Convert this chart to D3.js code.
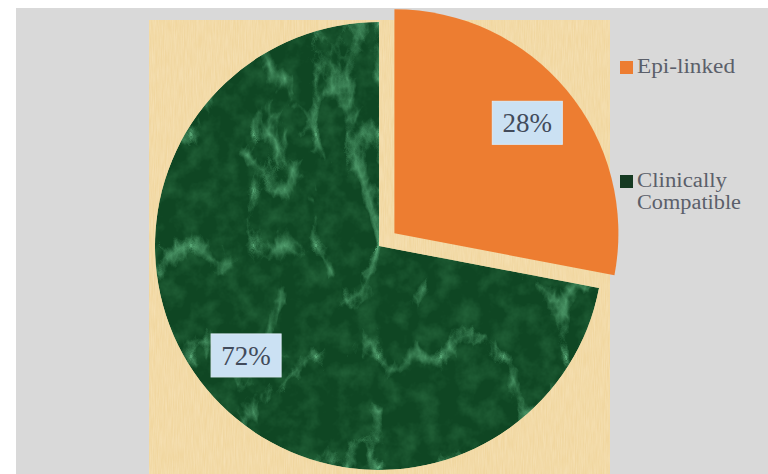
<!DOCTYPE html>
<html>
<head>
<meta charset="utf-8">
<script src="https://cdn.jsdelivr.net/npm/d3@7"></script>
<style>
  body { margin: 0; background: #fff; }
  text { font-family: "Liberation Serif", "Times New Roman", serif; }
</style>
</head>
<body>
<script>
// chart data
var categories = ['Epi-linked', 'Clinically Compatible'];
var values = [28, 72];
var legendLines = [['Epi-linked'], ['Clinically', 'Compatible']];
var colors = ['#ed7d31', '#0f4623'];

var width = 768, height = 474;

var svg = d3.select('body').append('svg')
  .attr('width', width)
  .attr('height', height);

var defs = svg.append('defs');

// green marble look for the big slice: mottled base + thin light veins
var marble = defs.append('filter')
  .attr('id', 'marble')
  .attr('color-interpolation-filters', 'sRGB')
  .attr('x', 0).attr('y', 0).attr('width', '100%').attr('height', '100%');
marble.append('feTurbulence')
  .attr('type', 'fractalNoise')
  .attr('baseFrequency', '0.05')
  .attr('numOctaves', 4)
  .attr('seed', 4)
  .attr('result', 'm');
marble.append('feColorMatrix')
  .attr('in', 'm')
  .attr('type', 'matrix')
  .attr('values', '0 0 0 0 0.16  0 0 0 0 0.42  0 0 0 0 0.25  1.5 0 0 0 -0.62')
  .attr('result', 'mv');
marble.append('feTurbulence')
  .attr('type', 'turbulence')
  .attr('baseFrequency', '0.016 0.009')
  .attr('numOctaves', 5)
  .attr('seed', 11)
  .attr('result', 't');
marble.append('feColorMatrix')
  .attr('in', 't')
  .attr('type', 'matrix')
  .attr('values', '0 0 0 0 0.38  0 0 0 0 0.7  0 0 0 0 0.5  -4 0 0 0 0.85')
  .attr('result', 'v');
var mm = marble.append('feMerge').attr('result', 'all');
mm.append('feMergeNode').attr('in', 'SourceGraphic');
mm.append('feMergeNode').attr('in', 'mv');
mm.append('feMergeNode').attr('in', 'v');
marble.append('feComposite')
  .attr('in', 'all').attr('in2', 'SourceGraphic')
  .attr('operator', 'in');

// papyrus look for the plot area
var pap = defs.append('filter')
  .attr('id', 'papyrus')
  .attr('color-interpolation-filters', 'sRGB')
  .attr('x', 0).attr('y', 0).attr('width', '100%').attr('height', '100%');
pap.append('feTurbulence')
  .attr('type', 'fractalNoise')
  .attr('baseFrequency', '0.9 0.06')
  .attr('numOctaves', 2)
  .attr('seed', 2)
  .attr('result', 'n');
pap.append('feColorMatrix')
  .attr('in', 'n')
  .attr('type', 'matrix')
  .attr('values', '0 0 0 0 1  0 0 0 0 0.95  0 0 0 0 0.85  0.5 0 0 0 -0.12')
  .attr('result', 'nv');
pap.append('feComposite')
  .attr('in', 'nv').attr('in2', 'SourceGraphic')
  .attr('operator', 'in').attr('result', 'nc');
var pm = pap.append('feMerge');
pm.append('feMergeNode').attr('in', 'SourceGraphic');
pm.append('feMergeNode').attr('in', 'nc');

// chart area
svg.append('rect')
  .attr('x', 16).attr('y', 8)
  .attr('width', width - 16).attr('height', height - 8)
  .attr('fill', '#d9d9d9');

// plot area
svg.append('rect')
  .attr('x', 149).attr('y', 20)
  .attr('width', 461).attr('height', height - 20)
  .attr('fill', '#f1d7a0')
  .attr('filter', 'url(#papyrus)');

var cx = 379, cy = 246, radius = 224, explode = 20;

var pie = d3.pie().sort(null).value(d => d);
var arcs = pie(values);

var arc = d3.arc().innerRadius(0).outerRadius(radius);
var labelArc = d3.arc().innerRadius(radius * 0.77).outerRadius(radius * 0.77);

function offset(d, i) {
  if (i !== 0) return [0, 0];
  var a = (d.startAngle + d.endAngle) / 2;
  return [Math.sin(a) * explode, -Math.cos(a) * explode];
}

var g = svg.append('g').attr('transform', `translate(${cx},${cy})`);

g.selectAll('path.slice')
  .data(arcs)
  .enter()
  .append('path')
  .attr('class', 'slice')
  .attr('d', arc)
  .attr('transform', (d, i) => `translate(${offset(d, i)})`)
  .attr('fill', (d, i) => colors[i])
  .attr('filter', (d, i) => i === 1 ? 'url(#marble)' : null);

// data labels with boxes
var labels = g.selectAll('g.lbl')
  .data(arcs)
  .enter()
  .append('g')
  .attr('class', 'lbl')
  .attr('transform', (d, i) => {
    var c = labelArc.centroid(d), o = offset(d, i);
    return `translate(${c[0] + o[0]},${c[1] + o[1]})`;
  });

labels.append('rect')
  .attr('x', -35).attr('y', -22)
  .attr('width', 70).attr('height', 43)
  .attr('fill', '#cbe1f3')
  .attr('stroke', '#dbeaf6')
  .attr('stroke-width', 1);

labels.append('text')
  .attr('text-anchor', 'middle')
  .attr('y', 9)
  .style('font-size', '27px')
  .style('fill', '#424b5b')
  .text(d => d.data + '%');

// legend
var legend = svg.append('g').attr('class', 'legend');
var legendY = [61, 175];
var lineWidths = [[98], [90, 104]];

var items = legend.selectAll('g.item')
  .data(categories)
  .enter()
  .append('g')
  .attr('class', 'item')
  .attr('transform', (d, i) => `translate(620,${legendY[i]})`);

items.append('rect')
  .attr('width', 13).attr('height', 13)
  .attr('fill', (d, i) => i === 0 ? colors[0] : '#163a22');

items.each(function(d, i) {
  var t = d3.select(this).append('text')
    .attr('x', 17)
    .attr('y', 12)
    .style('font-size', '20px')
    .style('fill', '#5b5f6a');
  legendLines[i].forEach((line, j) => {
    t.append('tspan')
      .attr('x', 17)
      .attr('dy', j === 0 ? 0 : 22)
      .attr('textLength', lineWidths[i][j])
      .attr('lengthAdjust', 'spacingAndGlyphs')
      .text(line);
  });
});
</script>
</body>
</html>
